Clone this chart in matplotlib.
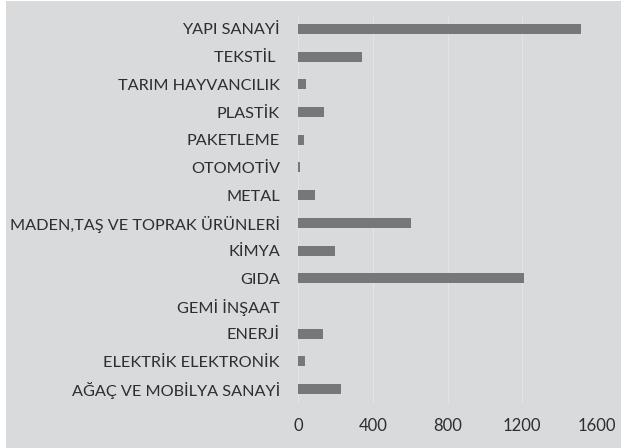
import matplotlib
matplotlib.use("Agg")
import matplotlib.pyplot as plt
from matplotlib.patches import Rectangle

# sektörler (alttan yukarı)
sektorler = ["AĞAÇ VE MOBİLYA SANAYİ", "ELEKTRİK ELEKTRONİK", "ENERJİ", "GEMİ İNŞAAT",
             "GIDA", "KİMYA", "MADEN,TAŞ VE TOPRAK ÜRÜNLERİ", "METAL", "OTOMOTİV",
             "PAKETLEME", "PLASTİK", "TARIM HAYVANCILIK", "TEKSTİL ", "YAPI SANAYİ"]
degerler = [230, 40, 132, 2, 1210, 198, 607, 91, 13, 32, 139, 41, 340, 1512]
x_ticks = [0, 400, 800, 1200, 1600]

bg = "#d9dadc"
bar_color = "#76777b"
text_color = "#2e2e2e"

plt.rcParams['font.family'] = ['Lato', 'DejaVu Sans']

fig = plt.figure(figsize=(6.21, 4.48), dpi=100)
fig.patch.set_facecolor("white")
# gri zemin, solda ince beyaz kenar
fig.patches.append(Rectangle((6/621, 0), 1, 447/448, transform=fig.transFigure,
                             facecolor=bg, edgecolor="none", zorder=-1))

ax = fig.add_axes([298/621, 1-403/448, (597-298)/621, (403-15)/448])
ax.set_facecolor(bg)

ax.barh(range(len(sektorler)), degerler, height=0.36, color=bar_color, zorder=3)

ax.set_xlim(0, 1600)
ax.set_ylim(-0.5, len(sektorler)-0.5)
ax.set_xticks(x_ticks)
ax.set_xticklabels([str(t) for t in x_ticks])
ax.set_yticks(range(len(sektorler)))
ax.set_yticklabels(sektorler)
ax.grid(axis='x', color="#e3e4e6", linewidth=0.8, zorder=1)
ax.tick_params(axis='both', length=0, labelcolor=text_color)
ax.tick_params(axis='y', pad=13, labelsize=11.7)
ax.tick_params(axis='x', pad=11, labelsize=12)
for s in ax.spines.values():
    s.set_visible(False)

fig.savefig("out.png", dpi=100, facecolor=fig.get_facecolor())
